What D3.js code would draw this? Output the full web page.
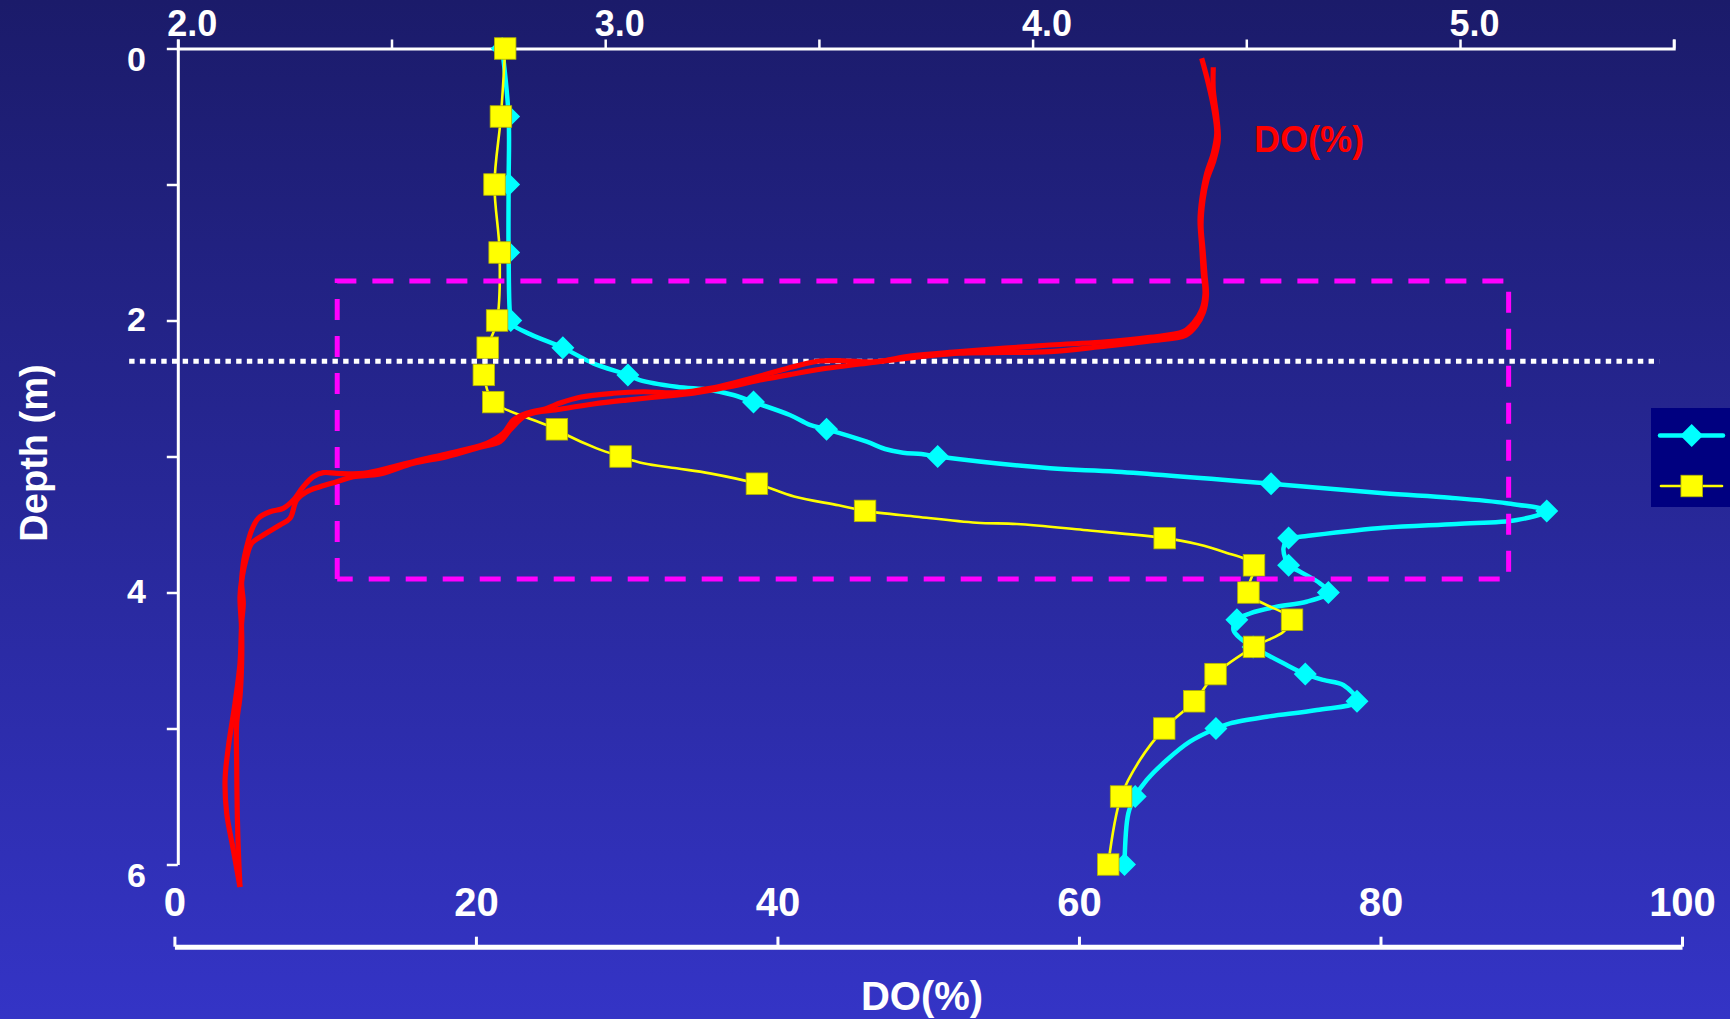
<!DOCTYPE html>
<html>
<head>
<meta charset="utf-8">
<script src="https://cdn.jsdelivr.net/npm/d3@7"></script>
<style>
  html, body { margin: 0; padding: 0; background: #1b1b6b; overflow: hidden; }
  svg { display: block; }
</style>
</head>
<body>
<svg id="chart" width="1730" height="1019"></svg>
<script>
// ---- profile data -------------------------------------------------------
// Cyan profile (top axis), depth in m
const cyanDepth = [0, 0.5, 1.0, 1.5, 2.0, 2.033, 2.10, 2.2, 2.315, 2.4, 2.438, 2.487, 2.511, 2.548, 2.6,
  2.695, 2.768, 2.8, 2.891, 2.945, 2.972, 2.982, 3.0, 3.087, 3.112, 3.2, 3.271, 3.303, 3.344, 3.4,
  3.467, 3.496, 3.524, 3.59, 3.6, 3.675, 3.749, 3.8, 3.847, 3.932, 4.0, 4.068, 4.104, 4.153, 4.2,
  4.276, 4.337, 4.4, 4.521, 4.6, 4.643, 4.68, 4.8, 4.864, 4.913, 4.962, 5.0, 5.097, 5.232, 5.379,
  5.5, 5.624, 6.0];
const cyanValue = [2.759, 2.774, 2.774, 2.774, 2.779, 2.784, 2.824, 2.901, 2.972, 3.053, 3.081, 3.167, 3.245, 3.300, 3.347,
  3.432, 3.479, 3.518, 3.612, 3.655, 3.697, 3.740, 3.778, 4.041, 4.197, 4.558, 4.821, 4.977, 5.109, 5.203,
  5.133, 4.992, 4.821, 4.626, 4.599, 4.587, 4.591, 4.599, 4.626, 4.672, 4.692, 4.641, 4.571, 4.509, 4.478,
  4.470, 4.486, 4.516, 4.587, 4.638, 4.680, 4.727, 4.759, 4.665, 4.548, 4.462, 4.429, 4.368, 4.314, 4.267,
  4.240, 4.224, 4.215];

// Yellow profile (top axis)
const yellowDepth = [0, 0.5, 1.0, 1.5, 2.0, 2.2, 2.4, 2.6, 2.646, 2.8, 2.842, 2.94, 3.0, 3.05, 3.087, 3.124,
  3.2, 3.294, 3.359, 3.4, 3.443, 3.487, 3.496, 3.54, 3.6, 3.643, 3.7, 3.8, 4.0, 4.2, 4.288, 4.4, 4.6,
  4.8, 5.0, 5.232, 5.5, 6.0];
const yellowValue = [2.766, 2.756, 2.741, 2.753, 2.747, 2.725, 2.716, 2.738, 2.762, 2.887, 2.910, 2.980, 3.036, 3.089, 3.167, 3.245,
  3.355, 3.442, 3.546, 3.608, 3.729, 3.869, 3.963, 4.119, 4.309, 4.384, 4.446, 4.518, 4.505, 4.607, 4.587, 4.518, 4.428,
  4.378, 4.308, 4.251, 4.207, 4.177];

// Sampling depths that carry a marker
const markerDepth = [0, 0.5, 1.0, 1.5, 2.0, 2.2, 2.4, 2.6, 2.8, 3.0, 3.2, 3.4, 3.6, 3.8, 4.0, 4.2, 4.4, 4.6, 4.8, 5.0, 5.5, 6.0];

// Dissolved oxygen saturation (%), two casts
const doDepthA = [0.072, 0.256, 0.452, 0.624, 0.771, 0.918, 1.114, 1.261, 1.457, 1.653, 1.800, 1.923,
  2.021, 2.082, 2.124, 2.160, 2.180, 2.229, 2.261, 2.303, 2.296, 2.298, 2.340, 2.408, 2.499, 2.531, 2.524,
  2.535, 2.564, 2.607, 2.646, 2.682, 2.732, 2.829, 2.903, 2.952, 3.038, 3.075, 3.124, 3.124, 3.119, 3.149,
  3.222, 3.320, 3.381, 3.406, 3.454, 3.540, 3.663, 3.785, 3.932, 4.079, 4.226, 4.521, 4.815, 5.134, 5.379,
  5.624, 5.893, 6.165];
const doPctA = [68.14, 68.58, 68.96, 69.14, 68.91, 68.47, 68.14, 68.03, 68.14, 68.25, 68.36, 68.14,
  67.58, 66.92, 64.71, 61.40, 58.08, 52.11, 48.79, 46.58, 44.37, 42.82, 41.05, 38.84, 35.53, 33.32, 31.10,
  29.11, 26.90, 25.58, 24.69, 23.37, 22.48, 21.82, 20.72, 19.16, 15.85, 14.52, 12.53, 10.77, 9.88, 9.21,
  8.55, 7.89, 7.22, 6.34, 5.57, 5.13, 4.80, 4.57, 4.46, 4.57, 4.46, 4.35, 4.02, 3.58, 3.36,
  3.47, 3.91, 4.35];
const doDepthB = [0.138, 0.305, 0.501, 0.673, 0.820, 0.967, 1.114, 1.298, 1.482, 1.665, 1.812, 1.938,
  2.040, 2.107, 2.151, 2.193, 2.229, 2.241, 2.290, 2.320, 2.351, 2.393, 2.438, 2.491, 2.535, 2.560, 2.585,
  2.614, 2.653, 2.695, 2.805, 2.891, 2.932, 3.001, 3.050, 3.129, 3.149, 3.185, 3.222, 3.259, 3.320, 3.454,
  3.504, 3.577, 3.638, 3.737, 3.908, 4.031, 4.276, 4.521, 4.766, 4.962, 5.256, 5.624, 5.893, 6.165];
const doPctB = [68.91, 68.91, 69.14, 69.24, 68.96, 68.49, 68.23, 68.10, 68.23, 68.36, 68.46, 68.26,
  67.76, 67.10, 64.71, 61.40, 58.08, 52.11, 47.69, 45.48, 43.27, 41.05, 38.84, 36.63, 34.42, 32.21, 30.00,
  27.79, 25.58, 23.37, 22.26, 21.60, 20.27, 18.06, 15.85, 13.64, 11.87, 10.77, 9.66, 8.78, 8.11, 7.67,
  7.00, 5.90, 5.13, 4.80, 4.46, 4.35, 4.46, 4.46, 4.35, 4.13, 4.13, 4.17, 4.24, 4.35];

// Axis ticks and labels
const depthTicks = [0, 1, 2, 3, 4, 5, 6];
const depthLabels = [0, 2, 4, 6];
const topTicks = [2.0, 2.5, 3.0, 3.5, 4.0, 4.5, 5.0, 5.5];
const topLabels = [2.0, 3.0, 4.0, 5.0];
const doTicks = [0, 20, 40, 60, 80, 100];

// Annotations: highlighted layer and thermocline depth
const boxDO = [10.8, 88.5];
const boxDepth = [1.71, 3.90];
const lineDepth = 2.30;
const lineDO = [-3, 98.5];

// ---- drawing ------------------------------------------------------------
const W = 1730, H = 1019;
const FONT = '"Liberation Sans", Arial, Helvetica, sans-serif';
const svg = d3.select('#chart');

const grad = svg.append('defs').append('linearGradient')
  .attr('id', 'bg').attr('x1', 0).attr('y1', 0).attr('x2', 0).attr('y2', 1);
grad.append('stop').attr('offset', '0%').attr('stop-color', 'rgb(27,27,106)');
grad.append('stop').attr('offset', '100%').attr('stop-color', 'rgb(52,52,198)');
svg.append('rect').attr('width', W).attr('height', H).attr('fill', 'url(#bg)');

const y = d3.scaleLinear().domain([0, 6]).range([48.5, 864.5]);
const xTop = d3.scaleLinear().domain([2, 5.5]).range([177.8, 1673.7]);
const xDO = d3.scaleLinear().domain([0, 100]).range([174.4, 1682]);

function styleAxis(g, size, lineW, tickW) {
  g.attr('font-family', FONT).attr('font-size', size).attr('font-weight', 'bold');
  g.select('.domain').attr('stroke', '#fff').attr('stroke-width', lineW);
  g.selectAll('.tick line').attr('stroke', '#fff').attr('stroke-width', tickW);
  g.selectAll('.tick text').attr('fill', '#fff');
}

// Depth axis (left)
const gL = svg.append('g').attr('transform', `translate(${xTop(2)},0)`)
  .call(d3.axisLeft(y).tickValues(depthTicks).tickSize(11).tickSizeOuter(0).tickPadding(21)
    .tickFormat(d => depthLabels.includes(d) ? String(d) : ''));
styleAxis(gL, 34, 3, 2.5);
gL.selectAll('.tick text').attr('dy', d => (d === 0 || d === 6) ? '0.66em' : '0.28em');

// Top axis
const gT = svg.append('g').attr('transform', `translate(0,${y(0)})`)
  .call(d3.axisTop(xTop).tickValues(topTicks).tickSize(9).tickSizeOuter(9).tickPadding(3.5)
    .tickFormat(d => topLabels.includes(d) ? d.toFixed(1) : ''));
styleAxis(gT, 36, 3, 2.5);
gT.selectAll('.tick text').attr('dx', 14);

// DO axis (bottom, ticks and labels above the line)
const gB = svg.append('g').attr('transform', 'translate(0,946.7)')
  .call(d3.axisTop(xDO).tickValues(doTicks).tickSize(10).tickSizeOuter(0).tickPadding(21)
    .tickFormat(d3.format('d')));
styleAxis(gB, 40, 5, 3);

// Axis titles
svg.append('text').attr('x', 922).attr('y', 1010).attr('text-anchor', 'middle')
  .attr('font-family', FONT).attr('font-weight', 'bold').attr('font-size', 40).attr('fill', '#fff')
  .text('DO(%)');
svg.append('text').attr('transform', 'translate(47,453) rotate(-90)').attr('text-anchor', 'middle')
  .attr('font-family', FONT).attr('font-weight', 'bold').attr('font-size', 38).attr('fill', '#fff')
  .text('Depth (m)');

// Profiles
const curve = d3.curveCatmullRom.alpha(0.5);
const zipTop = (ds, vs) => ds.map((d, i) => ({ d, v: vs[i] }));
const cyan = zipTop(cyanDepth, cyanValue);
const yellow = zipTop(yellowDepth, yellowValue);
const lineTop = d3.line().x(p => xTop(p.v)).y(p => y(p.d)).curve(curve);
const isMarker = p => markerDepth.some(m => Math.abs(m - p.d) < 1e-6);
const diamond = s => `M0,${-s}L${s},0L0,${s}L${-s},0Z`;

svg.append('path').datum(cyan).attr('d', lineTop)
  .attr('fill', 'none').attr('stroke', '#00ffff').attr('stroke-width', 4.5).attr('stroke-linejoin', 'round');
svg.append('g').selectAll('path').data(cyan.filter(isMarker)).join('path')
  .attr('transform', p => `translate(${xTop(p.v)},${y(p.d)})`)
  .attr('d', diamond(11.5)).attr('fill', '#00ffff');

svg.append('path').datum(yellow).attr('d', lineTop)
  .attr('fill', 'none').attr('stroke', '#ffff00').attr('stroke-width', 2.6).attr('stroke-linejoin', 'round');
svg.append('g').selectAll('rect').data(yellow.filter(isMarker)).join('rect')
  .attr('x', p => xTop(p.v) - 10.75).attr('y', p => y(p.d) - 10.75)
  .attr('width', 21.5).attr('height', 21.5)
  .attr('fill', '#ffff00').attr('stroke', '#b5b500').attr('stroke-width', 0.8);

// Highlighted layer
const bx0 = xDO(boxDO[0]), bx1 = xDO(boxDO[1]), by0 = y(boxDepth[0]), by1 = y(boxDepth[1]);
svg.append('path').attr('d', `M${bx0},${by1}V${by0}H${bx1}V${by1}H${bx0}`)
  .attr('fill', 'none').attr('stroke', '#ff00ff').attr('stroke-width', 5)
  .attr('stroke-dasharray', '21 16');

// Thermocline marker line
svg.append('line')
  .attr('x1', xDO(lineDO[0])).attr('x2', xDO(lineDO[1]))
  .attr('y1', y(lineDepth)).attr('y2', y(lineDepth))
  .attr('stroke', '#fff').attr('stroke-width', 5).attr('stroke-dasharray', '5.4 5.3');

// DO casts
const lineDOpath = d3.line().x(p => xDO(p.v)).y(p => y(p.d)).curve(curve);
[[doDepthA, doPctA], [doDepthB, doPctB]].forEach(([ds, vs]) => {
  svg.append('path').datum(zipTop(ds, vs)).attr('d', lineDOpath)
    .attr('fill', 'none').attr('stroke', '#ff0000').attr('stroke-width', 5.2)
    .attr('stroke-linejoin', 'round');
});
svg.append('text').attr('x', 1254).attr('y', 152)
  .attr('font-family', FONT).attr('font-weight', 'bold').attr('font-size', 36).attr('fill', '#ff0000')
  .text('DO(%)');

// Legend
const lg = svg.append('g');
lg.append('rect').attr('x', 1651).attr('y', 408).attr('width', 80).attr('height', 99).attr('fill', '#000080');
lg.append('line').attr('x1', 1660).attr('x2', 1723).attr('y1', 435.5).attr('y2', 435.5)
  .attr('stroke', '#00ffff').attr('stroke-width', 4.5).attr('stroke-linecap', 'round');
lg.append('path').attr('transform', 'translate(1691.7,435.5)').attr('d', diamond(11.5)).attr('fill', '#00ffff');
lg.append('line').attr('x1', 1661).attr('x2', 1722).attr('y1', 486).attr('y2', 486)
  .attr('stroke', '#ffff00').attr('stroke-width', 2.6).attr('stroke-linecap', 'round');
lg.append('rect').attr('x', 1691.7 - 10.75).attr('y', 486 - 10.75).attr('width', 21.5).attr('height', 21.5)
  .attr('fill', '#ffff00').attr('stroke', '#b5b500').attr('stroke-width', 0.8);
</script>
</body>
</html>
